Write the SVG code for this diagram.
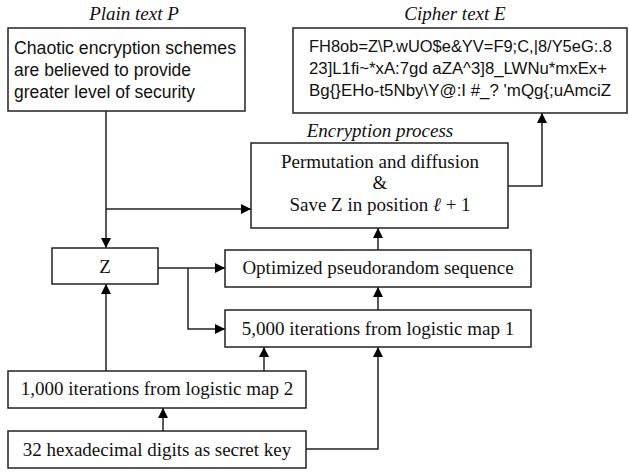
<svg xmlns="http://www.w3.org/2000/svg" width="629" height="472" viewBox="0 0 629 472">
  <defs>
    <marker id="arrow" viewBox="0 0 10 10" refX="10" refY="5" markerWidth="10" markerHeight="10" markerUnits="userSpaceOnUse" orient="auto">
      <path d="M0,0 L10,5 L0,10 z" fill="#000"/>
    </marker>
    <style>
      .box { fill: #fff; stroke: #222; stroke-width: 1.5; }
      .serif { font-family: "Liberation Serif", "Times New Roman", serif; font-size: 19px; fill: #111; }
      .cap { font-family: "Liberation Serif", "Times New Roman", serif; font-size: 19px; font-style: italic; fill: #111; }
      .sans { font-family: "Liberation Sans", Arial, sans-serif; font-size: 17.5px; fill: #111; }
      .code { font-family: "Liberation Sans", Arial, sans-serif; font-size: 16px; fill: #111; }
      .wire { fill: none; stroke: #222; stroke-width: 1.5; }
      .arr { marker-end: url(#arrow); }
    </style>
  </defs>
  <rect width="629" height="472" fill="#fff"/>

  <!-- captions -->
  <text class="cap" x="134" y="20" text-anchor="middle">Plain text P</text>
  <text class="cap" x="455" y="20" text-anchor="middle">Cipher text E</text>
  <text class="cap" x="380" y="137" text-anchor="middle">Encryption process</text>

  <!-- connectors -->
  <g id="connectors">
    <path class="wire arr" d="M106,111 V248"/>
    <path class="wire arr" d="M106,209 H251"/>
    <path class="wire arr" d="M508,186 H542 V113"/>
    <path class="wire arr" d="M378,250 V228"/>
    <path class="wire arr" d="M378,310 V287"/>
    <path class="wire arr" d="M158,268 H225"/>
    <path class="wire arr" d="M188,268 V329 H225"/>
    <path class="wire arr" d="M106,371 V284"/>
    <path class="wire arr" d="M264,371 V347"/>
    <path class="wire arr" d="M163,431 V408"/>
    <path class="wire arr" d="M306,449 H378 V347"/>
  </g>

  <g id="plain">
    <rect class="box" x="8" y="28" width="237" height="83"/>
    <text class="sans" x="14" textLength="222" lengthAdjust="spacingAndGlyphs" y="54">Chaotic encryption schemes</text>
    <text class="sans" x="14" y="76">are believed to provide</text>
    <text class="sans" x="14" y="98">greater level of security</text>
  </g>

  <g id="cipher">
    <rect class="box" x="293" y="28" width="334" height="85"/>
    <text class="code" x="309" y="52" textLength="303" lengthAdjust="spacingAndGlyphs">FH8ob=Z\P.wUO$e&amp;YV=F9;C,|8/Y5eG:.8</text>
    <text class="code" x="309" y="74" textLength="298" lengthAdjust="spacingAndGlyphs">23]L1fi~*xA:7gd aZA^3]8_LWNu*mxEx+</text>
    <text class="code" x="309" y="96" textLength="302" lengthAdjust="spacingAndGlyphs">Bg{}EHo-t5Nby\Y@:I #_? 'mQg{;uAmciZ</text>
  </g>

  <g id="permute">
    <rect class="box" x="251" y="143" width="257" height="85"/>
    <text class="serif" x="380" y="168" text-anchor="middle">Permutation and diffusion</text>
    <text class="serif" x="380" y="189" text-anchor="middle">&amp;</text>
    <text class="serif" x="380" y="211" text-anchor="middle">Save Z in position <tspan font-style="italic">ℓ</tspan> + 1</text>
  </g>

  <g id="z">
    <rect class="box" x="52" y="248" width="106" height="36"/>
    <text class="serif" x="105" y="273" text-anchor="middle">Z</text>
  </g>

  <g id="optimized">
    <rect class="box" x="225" y="250" width="306" height="37"/>
    <text class="serif" x="378" y="274" text-anchor="middle">Optimized pseudorandom sequence</text>
  </g>

  <g id="logistic1">
    <rect class="box" x="225" y="310" width="306" height="37"/>
    <text class="serif" x="378" y="335" text-anchor="middle">5,000 iterations from logistic map 1</text>
  </g>

  <g id="logistic2">
    <rect class="box" x="8" y="371" width="298" height="37"/>
    <text class="serif" x="157" y="395" text-anchor="middle">1,000 iterations from logistic map 2</text>
  </g>

  <g id="key">
    <rect class="box" x="8" y="431" width="298" height="37"/>
    <text class="serif" x="157" y="456" text-anchor="middle">32 hexadecimal digits as secret key</text>
  </g>
</svg>
